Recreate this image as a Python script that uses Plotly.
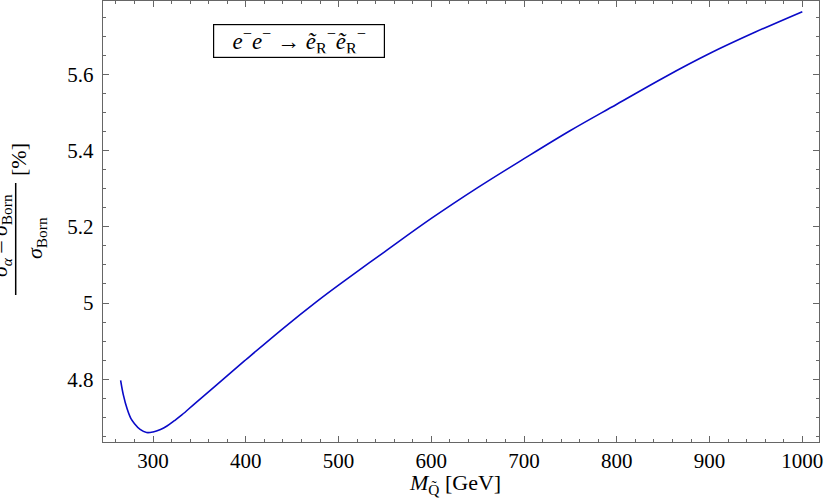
import plotly.graph_objects as go

mass = [265, 268, 272, 276, 280, 286, 293, 300, 308, 315, 323, 331, 345, 367, 400,
        440, 476, 500, 550, 600, 650, 700, 750, 800, 850, 900, 950, 1000]
delta = [4.797, 4.758, 4.722, 4.697, 4.683, 4.668, 4.660, 4.6615, 4.668, 4.677, 4.691,
         4.706, 4.736, 4.782, 4.851, 4.933, 5.003, 5.047, 5.135, 5.222, 5.303, 5.379,
         5.453, 5.522, 5.591, 5.655, 5.712, 5.765]
x_ticks = [300, 400, 500, 600, 700, 800, 900, 1000]
y_ticks = [4.8, 5.0, 5.2, 5.4, 5.6]
y_tick_text = ["4.8", "5", "5.2", "5.4", "5.6"]

FONT = "Liberation Serif, DejaVu Serif, serif"
L, R, T, B = 103, 5, 1, 56
W, H = 824, 498
PW, PH = W - L - R, H - T - B

def px(xp):
    return (xp - L) / PW

def py(yp):
    return 1 - (yp - T) / PH

fig = go.Figure()
fig.add_trace(go.Scatter(x=mass, y=delta, mode="lines",
                         line=dict(color="#0a0ac8", width=1.6, shape="spline", smoothing=1.0),
                         showlegend=False, hoverinfo="skip"))

axis_common = dict(showgrid=False, zeroline=False, showline=True, linecolor="#666666",
                   linewidth=1.2, mirror="ticks", ticks="inside", ticklen=6,
                   tickcolor="#666666", tickwidth=1, ticklabeloverflow="allow",
                   tickfont=dict(family=FONT, size=21, color="black"))

fig.update_xaxes(range=[246, 1018], tickvals=x_ticks, ticklabelstandoff=0,
                 minor=dict(dtick=20, tick0=0, ticks="inside", ticklen=3, tickcolor="#666666"),
                 **axis_common)
fig.update_yaxes(range=[4.635, 5.793], tickvals=y_ticks, ticktext=y_tick_text,
                 ticklabelstandoff=4,
                 minor=dict(dtick=0.05, tick0=0, ticks="inside", ticklen=3, tickcolor="#666666"),
                 **axis_common)

ann = []
# x axis title
ann.append(dict(xref="paper", yref="paper", x=px(455), y=py(484),
                text="<i>M</i><sub>Q̃</sub> [GeV]", showarrow=False,
                font=dict(family=FONT, size=22, color="black"),
                xanchor="center", yanchor="middle"))
# y axis title pieces
ann.append(dict(xref="paper", yref="paper", x=px(1), y=py(236),
                text="<i>σ</i><sub><i>α</i></sub> – <i>σ</i><sub>Born</sub>", showarrow=False,
                textangle=-90, font=dict(family=FONT, size=22, color="black"),
                xanchor="center", yanchor="middle"))
ann.append(dict(xref="paper", yref="paper", x=px(36), y=py(238),
                text="<i>σ</i><sub>Born</sub>", showarrow=False,
                textangle=-90, font=dict(family=FONT, size=22, color="black"),
                xanchor="center", yanchor="middle"))
ann.append(dict(xref="paper", yref="paper", x=px(19), y=py(160),
                text="[%]", showarrow=False,
                textangle=-90, font=dict(family=FONT, size=22, color="black"),
                xanchor="center", yanchor="middle"))
# process label box
ann.append(dict(xref="paper", yref="paper", x=px(299), y=py(41),
                text="<i>e</i><sup>−</sup><i>e</i><sup>−</sup> → <i>ẽ</i><sub>R</sub><sup>−</sup><i>ẽ</i><sub>R</sub><sup>−</sup>",
                showarrow=False, font=dict(family=FONT, size=23, color="black"),
                bordercolor="black", borderwidth=1.2, borderpad=4, bgcolor="white",
                width=162, height=24,
                xanchor="center", yanchor="middle"))

fig.update_layout(width=W, height=H, margin=dict(l=L, r=R, t=T, b=B, pad=0),
                  plot_bgcolor="white", paper_bgcolor="white",
                  annotations=ann, hovermode=False,
                  shapes=[dict(type="line", xref="paper", yref="paper",
                               x0=px(15.7), x1=px(15.7), y0=py(183), y1=py(295),
                               line=dict(color="black", width=1.5))])

fig.write_html("out.html", config={"displayModeBar": False, "staticPlot": True},
               post_script="document.body.style.margin='0';document.body.style.padding='0';")
